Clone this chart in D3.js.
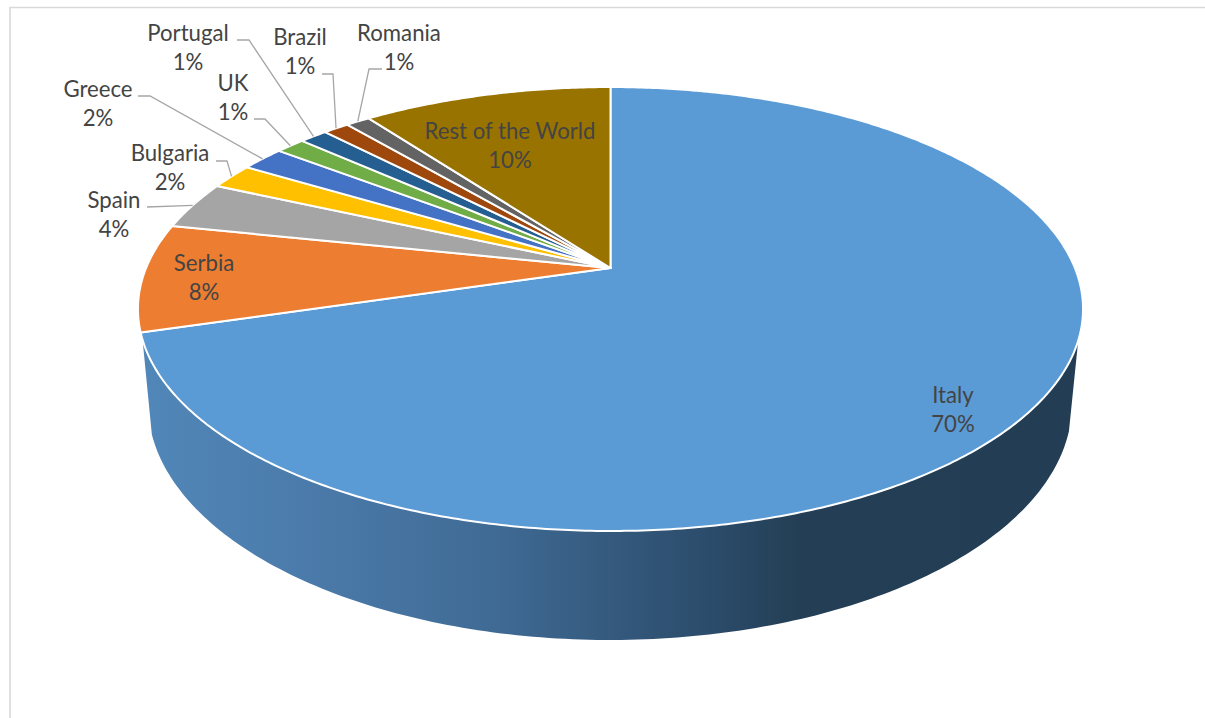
<!DOCTYPE html>
<html>
<head>
<meta charset="utf-8">
<script src="https://cdnjs.cloudflare.com/ajax/libs/d3/7.8.5/d3.min.js"></script>
<style>
  html, body { margin: 0; padding: 0; background: #fff; }
  svg { display: block; }
  text { font-family: Lato, "Open Sans", sans-serif; font-size: 22.2px; fill: #444; text-anchor: middle; }
</style>
</head>
<body>
<svg></svg>
<script>
//chart data, share of each country in percent
const categories = ["Italy", "Serbia", "Spain", "Bulgaria", "Greece", "UK", "Portugal", "Brazil", "Romania", "Rest of the World"];
const shares = [70.4, 7.85, 3.5, 1.85, 1.8, 1.2, 1.15, 1.05, 1.0, 10.2];
const colors = ["#5b9bd5", "#ed7d31", "#a5a5a5", "#ffc000", "#4472c4", "#70ad47", "#255e91", "#9e480e", "#636363", "#997300"];

const w = 1205;
const h = 718;

//label placement, hand positioned like in the original: [x, y of first line, leader elbows]
const labelLayout = {
  "Italy": [953, 403],
  "Serbia": [204, 271],
  "Spain": [114, 208, [[147, 207]]],
  "Bulgaria": [170, 161, [[216, 161], [227, 161]]],
  "Greece": [98, 97, [[138, 96], [150, 96]]],
  "UK": [233, 91, [[254, 119], [265, 119]]],
  "Portugal": [188, 41, [[237, 40], [249, 40]]],
  "Brazil": [300, 45, [[322, 74], [333, 74]]],
  "Romania": [399, 41, [[382, 69], [369, 69]]],
  "Rest of the World": [510, 139]
};
const lineGap = 28.5;

//top face of the pie, a circle seen in perspective
const apex = { x: 610.5, y: 268 };
const persp = 0.1847;
const radX = 464.4;
const radY = 214.4;

//bottom rim of the wall
const rim = { x: 610, y: 404, rx: 462, ry: 236 };

const project = (a) => {
  const k = 1 + persp * Math.cos(a);
  return [apex.x + radX * Math.sin(a) / k, apex.y - radY * Math.cos(a) / k];
};

const svg = d3.select("svg").attr("width", w).attr("height", h);
const line = d3.line();

//chart frame, only top and left show in the crop
svg.append("path")
  .attr("d", line([[10, h], [10, 7.5], [w, 7.5]]))
  .attr("fill", "none")
  .attr("stroke", "#d9d9d9")
  .attr("stroke-width", 1.6);

//wall with the dark gradient
const grad = svg.append("defs").append("linearGradient")
  .attr("id", "wall")
  .attr("gradientUnits", "userSpaceOnUse")
  .attr("x1", 140).attr("x2", 1080).attr("y1", 0).attr("y2", 0);
[[0, "#5187b9"], [0.2, "#4a79a8"], [0.38, "#3f6a94"], [0.5, "#355a7e"], [0.62, "#2a4a68"], [0.7, "#243f55"], [1, "#233e54"]]
  .forEach((s) => grad.append("stop").attr("offset", s[0]).attr("stop-color", s[1]));

const toRad = Math.PI / 180;
const rimPts = d3.range(6.6, 173.5, 1).map((t) => [
  rim.x + rim.rx * Math.cos(t * toRad),
  rim.y + rim.ry * Math.sin(t * toRad)
]);
const edgePts = d3.range(251.6, 108.3, -1).map((t) => project(t * toRad));

svg.append("path")
  .attr("d", line(rimPts.concat(edgePts)) + "Z")
  .attr("fill", "url(#wall)");

//slices
const pie = d3.pie().sort(null).value((d) => d);
const arcs = pie(shares);

const slicePath = (d) => {
  const n = Math.ceil((d.endAngle - d.startAngle) / 0.01);
  const pts = d3.range(n + 1).map((i) => project(d.startAngle + (d.endAngle - d.startAngle) * i / n));
  return line([[apex.x, apex.y]].concat(pts)) + "Z";
};

svg.selectAll("path.slice")
  .data(arcs)
  .enter()
  .append("path")
  .attr("class", "slice")
  .attr("d", slicePath)
  .attr("fill", (d, i) => colors[i])
  .attr("stroke", "#fff")
  .attr("stroke-width", 2)
  .attr("stroke-linejoin", "round");

//leader lines end on the edge of their slice
arcs.forEach((d, i) => {
  const elbows = labelLayout[categories[i]][2];
  if (!elbows) return;
  const end = project((d.startAngle + d.endAngle) / 2);
  svg.append("path")
    .attr("d", line(elbows.concat([end])))
    .attr("fill", "none")
    .attr("stroke", "#a6a6a6")
    .attr("stroke-width", 1.3);
});

//labels
categories.forEach((name, i) => {
  const pos = labelLayout[name];
  svg.append("text").attr("x", pos[0]).attr("y", pos[1]).text(name);
  svg.append("text").attr("x", pos[0]).attr("y", pos[1] + lineGap).text(Math.round(shares[i]) + "%");
});
</script>
</body>
</html>
